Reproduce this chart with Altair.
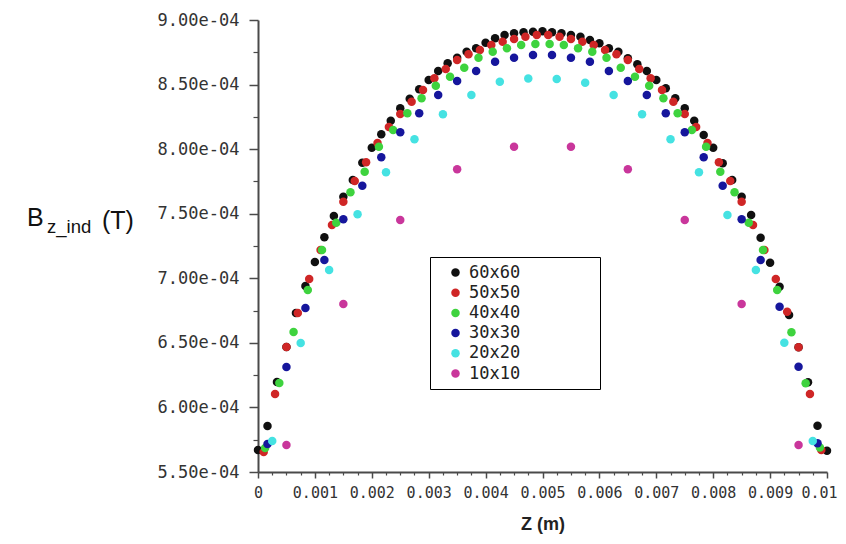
import altair as alt
import pandas as pd

LENGTH = 0.01  # m, length of the z axis
UNIT = 1e-4    # values below are given in units of 1e-4 T

series = ["60x60", "50x50", "40x40", "30x30", "20x20", "10x10"]
colors = ["#101010", "#cf2626", "#3ed33e", "#16169c", "#45e2e2", "#c9369b"]
cells = [60, 50, 40, 30, 20, 10]
at_nodes = [True, False, False, False, False, False]

b_60x60 = [5.670, 5.856, 6.197, 6.468, 6.731, 6.940, 7.126, 7.317, 7.482, 7.632,
           7.761, 7.895, 8.011, 8.115, 8.220, 8.316, 8.391, 8.463, 8.535, 8.605,
           8.665, 8.708, 8.755, 8.781, 8.824, 8.858, 8.884, 8.897, 8.905, 8.909,
           8.912,
           8.905, 8.897, 8.884, 8.871, 8.845, 8.820, 8.781, 8.755, 8.703, 8.657,
           8.605, 8.535, 8.471, 8.394, 8.316, 8.220, 8.110, 8.011, 7.890, 7.761,
           7.632, 7.490, 7.314, 7.121, 6.935, 6.716, 6.466, 6.195, 5.858, 5.665]
b_50x50 = [5.655, 6.104, 6.468, 6.731, 6.994, 7.219, 7.413, 7.593, 7.753, 7.898,
           8.048, 8.171, 8.272, 8.367, 8.458, 8.549, 8.621, 8.690, 8.734, 8.768,
           8.806, 8.832, 8.853, 8.871, 8.884,
           8.884, 8.871, 8.853, 8.832, 8.806,
           8.768, 8.734, 8.690, 8.621, 8.549, 8.458, 8.367, 8.272, 8.171, 8.048,
           7.898, 7.753, 7.593, 7.413, 7.219, 6.994, 6.741, 6.466, 6.104, 5.670]
b_40x40 = [5.686, 6.189, 6.584, 6.909, 7.219, 7.430, 7.666, 7.825, 8.019, 8.148,
           8.278, 8.394, 8.491, 8.561, 8.631, 8.708, 8.755, 8.781, 8.806, 8.814,
           8.814, 8.806, 8.781, 8.755, 8.708, 8.631, 8.561, 8.491, 8.394, 8.278,
           8.148, 8.019, 7.825, 7.666, 7.430, 7.219, 6.909, 6.582, 6.187, 5.690]
b_30x30 = [5.717, 6.313, 6.770, 7.142, 7.457, 7.717, 7.937, 8.130, 8.278, 8.419,
           8.528, 8.605, 8.677, 8.708, 8.729,
           8.729, 8.708, 8.677, 8.605, 8.528,
           8.419, 8.278, 8.130, 7.937, 7.717, 7.457, 7.142, 6.780, 6.315, 5.722]
b_20x20 = [5.740, 6.499, 7.064, 7.495, 7.821, 8.076, 8.270, 8.419, 8.522, 8.547,
           8.543, 8.514, 8.419, 8.270, 8.076, 7.821, 7.490, 7.064, 6.501, 5.740]
b_10x10 = [5.709, 6.801, 7.451, 7.844, 8.019, 8.019, 7.844, 7.451, 6.801, 5.709]

values = [b_60x60, b_50x50, b_40x40, b_30x30, b_20x20, b_10x10]

x_major = [0, 0.001, 0.002, 0.003, 0.004, 0.005, 0.006, 0.007, 0.008, 0.009, 0.01]
x_minor = [round(0.00025 * i, 6) for i in range(41) if i % 4 != 0]
y_major = [5.5e-4, 6.0e-4, 6.5e-4, 7.0e-4, 7.5e-4, 8.0e-4, 8.5e-4, 9.0e-4]
y_minor = [5.75e-4, 6.25e-4, 6.75e-4, 7.25e-4, 7.75e-4, 8.25e-4, 8.75e-4]

rows = []
for k, (name, n, nodes, vals) in enumerate(zip(series, cells, at_nodes, values)):
    for i, v in enumerate(vals):
        z = i * LENGTH / n if nodes else (i + 0.5) * LENGTH / n
        rows.append({"mesh": name, "k": k, "z": z, "B": v * UNIT})
df = pd.DataFrame(rows)

MONO = "DejaVu Sans Mono"
AX = "#4a4a4a"
BLANK = "\u2800" * 6  # non-trimmed blank glyphs that widen the legend box
xs = alt.Scale(domain=[0, LENGTH], nice=False, zero=False)
ys = alt.Scale(domain=[5.5e-4, 9.0e-4], nice=False, zero=False)

points = alt.Chart(df).mark_circle(size=72, opacity=1).encode(
    x=alt.X("z:Q", scale=xs, axis=alt.Axis(
        values=x_major, format="~g", orient="bottom", grid=False,
        title="Z (m)", titleFont="Liberation Sans", titleFontSize=18, titleFontWeight="bold",
        titleColor="#222222", titlePadding=15,
        labelFont=MONO, labelFontSize=15, labelColor="#333333", labelPadding=7,
        labelFlush=False, labelOverlap=False,
        labelAlign={"condition": {"test": "datum.value >= 0.0099", "value": "right"}, "value": "center"},
        labelOffset={"condition": {"test": "datum.value >= 0.0099", "value": 10}, "value": 0},
        tickSize=6, tickColor=AX, tickWidth=1.5, domainColor=AX, domainWidth=2)),
    y=alt.Y("B:Q", scale=ys, axis=alt.Axis(
        values=y_major, orient="left", grid=False, title=None,
        labelExpr="replace(format(datum.value, '.2e'), 'e-4', 'e-04')",
        labelFont=MONO, labelFontSize=17, labelColor="#333333", labelPadding=10,
        labelFlush=False, labelOverlap=False,
        tickSize=9, tickColor=AX, tickWidth=1.5, domainColor=AX, domainWidth=2)),
    color=alt.Color("mesh:N", scale=alt.Scale(domain=series, range=colors), legend=alt.Legend(
        orient="none", legendX=172, legendY=237, title=None,
        strokeColor="black", fillColor="white", padding=7,
        symbolType="circle", symbolSize=72, symbolStrokeWidth=0, symbolOffset=10,
        labelFont=MONO, labelFontSize=17, labelColor="#222222", labelOffset=5,
        rowPadding=2.2,
        labelExpr="datum.label + '" + BLANK + "'")),
    order=alt.Order("k:Q"),
)

minor = alt.Chart(df).mark_circle(opacity=0).encode(
    x=alt.X("z:Q", scale=xs, axis=alt.Axis(
        values=x_minor, orient="bottom", labels=False, domain=False, grid=False, title=None,
        tickSize=3, tickColor=AX, tickWidth=1.2)),
    y=alt.Y("B:Q", scale=ys, axis=alt.Axis(
        values=y_minor, orient="left", labels=False, domain=False, grid=False, title=None,
        tickSize=5, tickColor=AX, tickWidth=1.2)),
)

def label(text, x, y, size):
    return alt.Chart(pd.DataFrame({"t": [text]})).mark_text(
        align="left", baseline="alphabetic", font="Liberation Sans",
        fontSize=size, color="#111111"
    ).encode(text="t:N", x=alt.value(x), y=alt.value(y))

ytitle = label("B", -231, 206, 25) + label("z_ind", -211, 213, 18.5) + label("(T)", -156, 209, 25)

chart = alt.layer(points, minor, ytitle).resolve_axis(
    x="independent", y="independent"
).properties(
    width=569, height=452,
    padding={"left": 250, "top": 12, "right": 11, "bottom": 64},
    autosize=alt.AutoSizeParams(type="none"),
    background="white",
).configure_view(stroke=None)

chart.save("out.html", embed_options={"renderer": "svg", "actions": False})
